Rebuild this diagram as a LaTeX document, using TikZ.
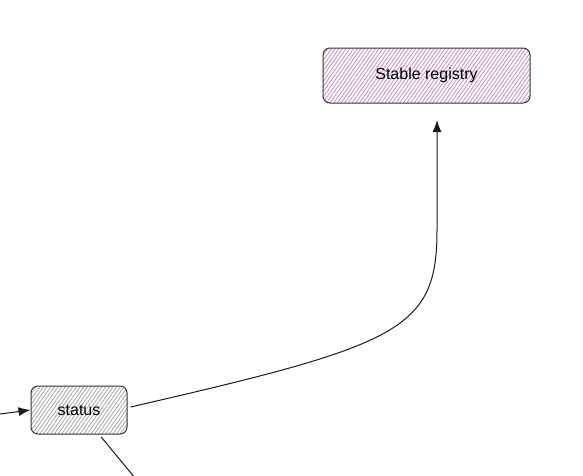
\documentclass[tikz,border=0pt]{standalone}
\usepackage{fontspec}
\setmainfont{Liberation Sans}
\usepackage{tikz}
\usetikzlibrary{positioning, arrows.meta, calc, patterns.meta}

\begin{document}
\begin{tikzpicture}[x=1pt, y=-1pt,
    registry/.style={rectangle, draw=black!80, line width=1pt, rounded corners=7pt, align=center,
        pattern={Lines[angle=55, distance=3pt, line width=0.8pt]}, pattern color=violet!45,
        minimum width=207pt, minimum height=55pt, font=\fontsize{16}{18}\selectfont},
    stat/.style={rectangle, draw=black!80, line width=1pt, rounded corners=7pt, align=center,
        pattern={Lines[angle=55, distance=3pt, line width=0.8pt]}, pattern color=black!35,
        minimum width=96pt, minimum height=48pt, font=\fontsize{16}{18}\selectfont},
    link/.style={draw=black!90, line width=1pt, -{Latex[length=12pt, width=9pt]}},
    plain/.style={draw=black!90, line width=1pt}]

  \useasboundingbox (0,0) rectangle (583,475);

  \node[registry] (registry) at (426.5,75.5) {Stable registry};
  \node[stat] (status) at (79,410) {status};

  \coordinate (feed) at (0,414);
  \coordinate (regin) at (437,120);
  \coordinate (away) at (135,478);

  \draw[link] (feed) -- (status.west);
  \draw[link] ([xshift=3pt, yshift=3pt]status.east) .. controls (400,345) and (437,330) .. (437,230) -- (regin);
  \draw[plain, shorten <=3pt] (status) -- (away);

\end{tikzpicture}
\end{document}
